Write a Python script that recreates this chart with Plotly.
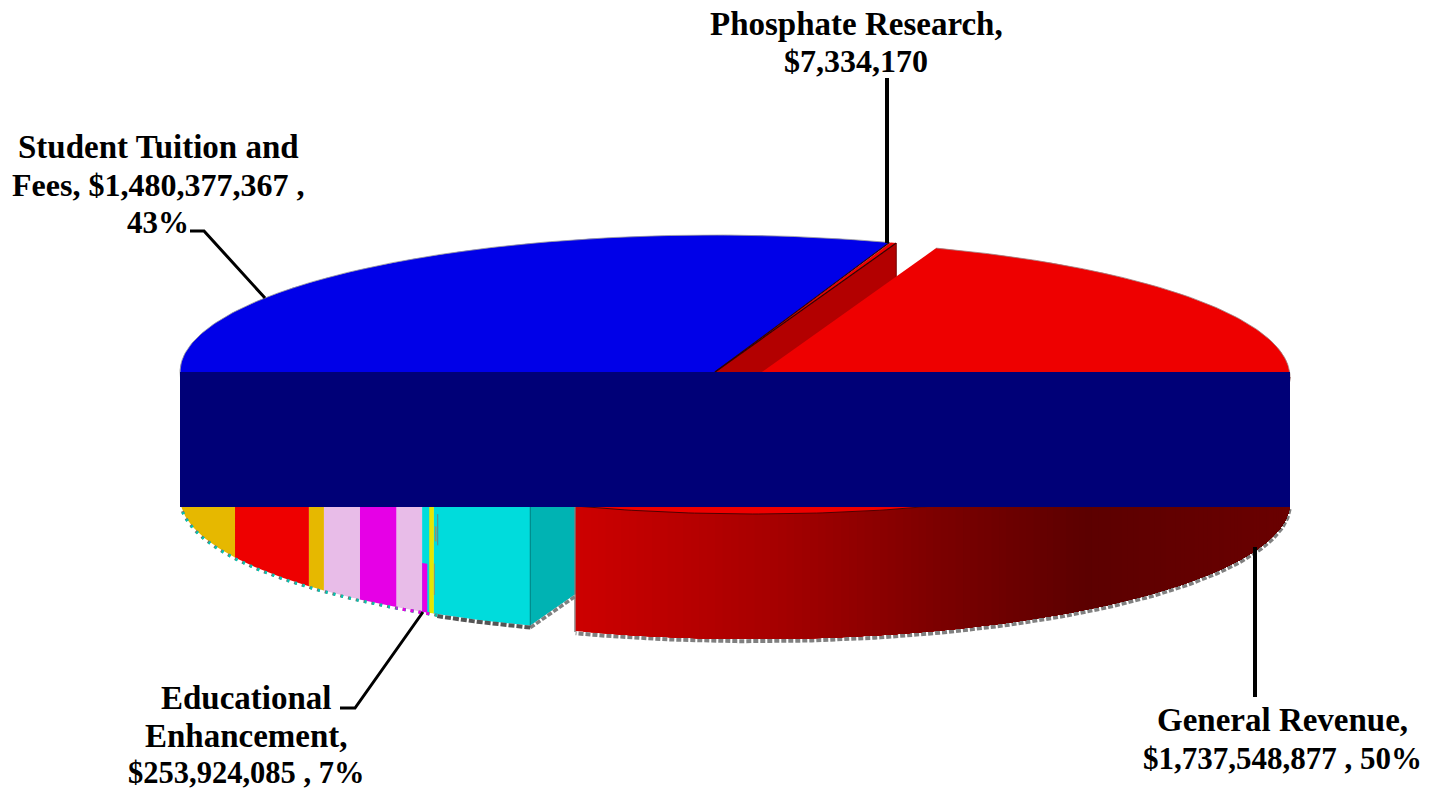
import numpy as np
import plotly.graph_objects as go

# ---- data ----
source_names = ["General Revenue", "Student Tuition and Fees", "Educational Enhancement", "Phosphate Research"]
source_values = [1737548877, 1480377367, 253924085, 7334170]
label_lines = [
    ["Phosphate Research,", "$7,334,170"],
    ["Student Tuition and", "Fees, $1,480,377,367 ,", "43%"],
    ["Educational", "Enhancement,", "$253,924,085 , 7%"],
    ["General Revenue,", "$1,737,548,877 , 50%"],
]
# side-wall bands under the blue face, % of the full pie, front to left
band_shares = [3.08, 0.12, 0.16, 0.07, 0.18, 0.94, 1.39, 1.5, 0.67, 4.0, 7.28]
band_colors = ["#00dcdc", "#00dcdc", "#e6e600", "#00dcdc", "#00dcdc", "#e8bce8", "#e600e6",
               "#e8bce8", "#e6b800", "#ee0000", "#e6b800"]
# red wall shading from front-left to right
shade_stops = [0.0, 0.26, 0.525, 0.71, 1.0]
shade_reds = [204, 168, 120, 92, 106]

# ---- geometry of the drawing ----
A, B, DEPTH = 535.0, 137.0, 125.0
C_MAIN = (715.0, 372.0)
C_RED = (755.0, 377.0)
START_DEG = 19.8
GAP_DEG = 0.6
BLUE, RED, DARK, TEAL, NAVY, GREY = "#0000e8", "#ee0000", "#b30000", "#00b3b3", "#000077", "#808080"
label_sizes = [[33, 32], [33, 32, 31], [33, 33, 30.5], [33, 31]]

total = float(sum(source_values))
deg = {n: v / total * 360 for n, v in zip(source_names, source_values)}
red_end = START_DEG + deg["General Revenue"]
blue_start = red_end + GAP_DEG
phos_end = START_DEG + 360.0
blue_end = phos_end - deg["Phosphate Research"]


def arc(c, t0, t1, dy=0.0, n=160):
    t = np.radians(np.linspace(t0, t1, n))
    return c[0] + A * np.sin(t), c[1] - B * np.cos(t) + dy


def poly(fig, xs, ys, fill, line=None, width=0.0):
    fig.add_trace(go.Scatter(x=list(xs), y=list(ys), mode="lines", fill="toself", fillcolor=fill,
                             line=dict(color=line or fill, width=width), hoverinfo="skip", showlegend=False))


def stroke(fig, xs, ys, color, width=1.0, dash="solid"):
    fig.add_trace(go.Scatter(x=list(xs), y=list(ys), mode="lines",
                             line=dict(color=color, width=width, dash=dash),
                             hoverinfo="skip", showlegend=False))


def wedge(fig, c, t0, t1, fill):
    x, y = arc(c, t0, t1)
    poly(fig, np.r_[c[0], x, c[0]], np.r_[c[1], y, c[1]], fill)


def wall(fig, c, t0, t1, fill, d0=0.0, d1=1.0, width=0.0, n=24):
    x, y = arc(c, t0, t1, n=n)
    poly(fig, np.r_[x, x[::-1]], np.r_[y + d0 * DEPTH, y[::-1] + d1 * DEPTH], fill, width=width)


fig = go.Figure()

# blue top face and the wall of the cut
wedge(fig, C_MAIN, blue_start, blue_end, BLUE)
wx, wy = arc(C_MAIN, phos_end, phos_end, n=1)
poly(fig, [wx[0], C_MAIN[0], C_MAIN[0], wx[0]],
     [wy[0], C_MAIN[1], C_MAIN[1] + DEPTH, wy[0] + DEPTH], DARK)
wedge(fig, C_MAIN, blue_end, phos_end, RED)
bx, by = arc(C_MAIN, blue_end, blue_end, n=1)
stroke(fig, [bx[0], C_MAIN[0]], [by[0], C_MAIN[1]], "#300000", 1.2)
stroke(fig, [wx[0], C_MAIN[0]], [wy[0], C_MAIN[1]], "#300000", 1.2)
stroke(fig, [wx[0], wx[0]], [wy[0], wy[0] + 40], "#700000", 1)
ax_, ay_ = arc(C_MAIN, blue_start + 40, blue_end, n=200)
stroke(fig, ax_, ay_, "#9a9a9a", 0.8)

# teal cut face in front
ex, ey = arc(C_MAIN, blue_start, blue_start, n=1)
poly(fig, [ex[0], C_MAIN[0], C_MAIN[0], ex[0]],
     [ey[0], C_MAIN[1], C_MAIN[1] + DEPTH, ey[0] + DEPTH], TEAL)

# coloured bands of the side wall
edges = blue_start + np.r_[0, np.cumsum(band_shares)] * 3.6
for i, col in enumerate(band_colors):
    wall(fig, C_MAIN, edges[i], edges[i + 1] + 0.05, col)
# small overprints in the thin bands
wall(fig, C_MAIN, edges[4], edges[5], "#e600e6", d0=0.61, d1=1.0)
wall(fig, C_MAIN, edges[1] - 0.12, edges[1], "#707c78", d0=0.2, d1=0.45)
wall(fig, C_MAIN, edges[1] + 0.1, edges[1] + 0.3, "#98906a", d0=0.3, d1=0.42)
wall(fig, C_MAIN, edges[1] + 0.3, edges[1] + 0.42, "#98906a", d0=0.6, d1=0.85)
xe, ye = arc(C_MAIN, edges[0], edges[0], n=1)
stroke(fig, [xe[0], xe[0]], [ye[0] + DEPTH, ye[0]], "#00c0c0", 0.8)
xe, ye = arc(C_MAIN, blue_start, blue_start, n=1)
stroke(fig, [xe[0], xe[0]], [ye[0], ye[0] + DEPTH], "#008c8c", 1.2)

# dashed rim under the left part
stroke(fig, [xe[0], C_MAIN[0]], [ye[0] + DEPTH + 2, C_MAIN[1] + DEPTH + 2], GREY, 3.5, "5px,2px")
rx, ry = arc(C_MAIN, blue_start, edges[1], dy=DEPTH + 2, n=40)
stroke(fig, rx, ry, "#555555", 4, "6px,2px")
rx, ry = arc(C_MAIN, edges[1], 265.0, dy=DEPTH + 1.2, n=160)
stroke(fig, rx, ry, "#707070", 3, "3px,5px")
stroke(fig, rx, ry, "#00c8b4", 3, "2px,6px")
rx, ry = arc(C_MAIN, edges[3], edges[6], dy=DEPTH + 1.0, n=40)
stroke(fig, rx, ry, "#e600e6", 3, "3px,5px")

# red slice: shaded wall, then top face
wall_edges = np.linspace(red_end, 90.0, 130)
x_left = C_RED[0] + A * np.sin(np.radians(red_end))
x_right = C_RED[0] + A
rim_x, rim_y = arc(C_RED, 92.0, red_end, dy=DEPTH + 2.2)
stroke(fig, rim_x, rim_y, GREY, 4, "5px,2px")
lx, ly = arc(C_RED, red_end, red_end, n=1)
stroke(fig, [lx[0] - 0.6, lx[0] - 0.6], [ly[0], ly[0] + DEPTH + 1], GREY, 1.5)
for t0 in wall_edges[:-1]:
    xm = C_RED[0] + A * np.sin(np.radians(t0))
    f = (xm - x_left) / (x_right - x_left)
    r = int(round(np.interp(f, shade_stops, shade_reds)))
    wall(fig, C_RED, t0, 90.0, f"rgb({r},0,0)", n=max(int(abs(t0 - 90)) + 2, 4))
wedge(fig, C_RED, START_DEG, red_end, RED)
fx, fy = arc(C_RED, 90.0, red_end)
stroke(fig, fx, fy, "#500000", 1)
ux, uy = arc(C_RED, START_DEG, 90.0)
stroke(fig, ux, uy, "#a08080", 0.8)

# labels, one annotation per line to hold the tight leading
label_x = [856, 158, 246, 1282]
label_y = [[24, 61], [147, 185, 222], [698, 736, 773], [720, 758]]
for lines, lxp, ys, sizes in zip(label_lines, label_x, label_y, label_sizes):
    for text, yp, sz in zip(lines, ys, sizes):
        fig.add_annotation(x=lxp, y=yp, text=f"<b>{text}</b>", showarrow=False,
                           font=dict(family="Liberation Serif", size=sz, color="#000000"),
                           xref="x", yref="y", xanchor="center", yanchor="middle")

leaders = [
    ([(887, 78), (887, 243)], 4),
    ([(190, 231), (204, 231), (265, 298)], 3),
    ([(340, 708), (355, 708), (423, 612)], 3),
    ([(1255, 547), (1255, 697)], 4),
]
shapes = [dict(type="rect", x0=180, x1=1290, y0=372, y1=507, xref="x", yref="y",
               fillcolor=NAVY, line=dict(width=0), layer="above")]
for pts, w in leaders:
    path = "M " + " L ".join(f"{x} {y}" for x, y in pts)
    shapes.append(dict(type="path", path=path, xref="x", yref="y",
                       line=dict(color="#000000", width=w), layer="above"))

fig.update_layout(
    width=1430, height=790, margin=dict(l=0, r=0, t=0, b=0), autosize=False,
    paper_bgcolor="#ffffff", plot_bgcolor="#ffffff", showlegend=False, shapes=shapes,
    xaxis=dict(range=[0, 1430], visible=False, fixedrange=True),
    yaxis=dict(range=[790, 0], visible=False, fixedrange=True),
)
fig.write_html("out.html", config=dict(displayModeBar=False),
               post_script="document.body.style.margin='0';document.body.style.overflow='hidden';")
